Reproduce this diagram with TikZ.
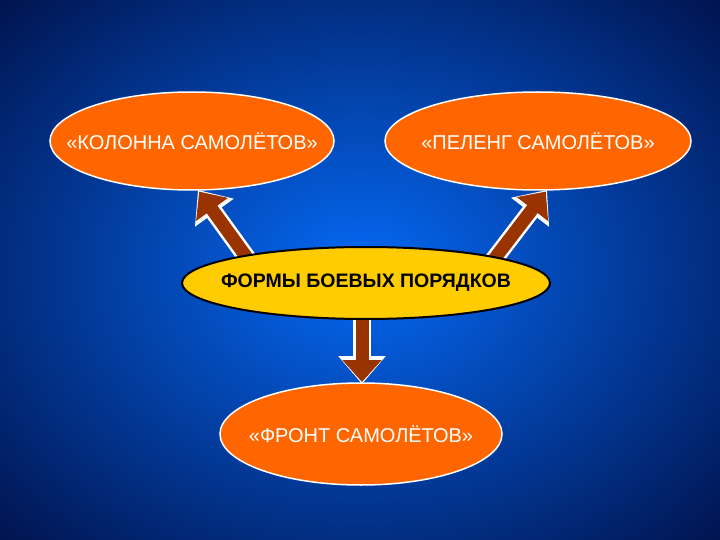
\documentclass[tikz,border=0pt]{standalone}
\usepackage{fontspec}
\setmainfont{Liberation Sans}
\usetikzlibrary{shapes.geometric,arrows.meta}
\definecolor{bgin}{RGB}{5,105,245}
\definecolor{bgout}{RGB}{0,10,60}
\definecolor{orng}{RGB}{255,102,0}
\definecolor{yel}{RGB}{255,204,0}
\definecolor{brn}{RGB}{153,51,0}
\tikzset{
  oval/.style={ellipse, fill=orng, draw=white, line width=1.5pt, inner sep=0pt},
  ovaltext/.style={font=\fontsize{20}{24}\selectfont, text=white},
  hub/.style={ellipse, fill=yel, draw=black, line width=2pt, inner sep=0pt},
  hubtext/.style={font=\bfseries\fontsize{19.5}{23}\selectfont, text=black},
  arrw/.style={line width=18pt, white, -{Triangle[width=46pt,length=28pt]}},
  arrb/.style={line width=13pt, brn, shorten >=2pt, -{Triangle[width=38pt,length=22pt]}}
}
\begin{document}
\begin{tikzpicture}[x=1pt,y=-1pt]
\fill[bgout] (0,0) rectangle (720,540);
\begin{scope}
\clip (0,0) rectangle (720,540);
\shade[inner color=bgin, outer color=bgout] (-200,-160) rectangle (920,700);
\end{scope}
\path[use as bounding box] (0,0) rectangle (720,540);
\node[oval, minimum width=284pt, minimum height=98pt] (a) at (192,141) {};
\node[ovaltext] (at) at (a) {«КОЛОННА САМОЛЁТОВ»};
\node[oval, minimum width=306pt, minimum height=98pt] (b) at (538,141) {};
\node[ovaltext] (bt) at (b) {«ПЕЛЕНГ САМОЛЁТОВ»};
\node[oval, minimum width=282pt, minimum height=102pt] (d) at (361,434) {};
\node[ovaltext] (dt) at (d) {«ФРОНТ САМОЛЁТОВ»};
\coordinate (s1) at (250,262);
\coordinate (s2) at (492,262);
\coordinate (s3) at (362,300);
\coordinate (t1) at (198,190);
\coordinate (t2) at (547,190);
\coordinate (t3) at (362,384);
\foreach \s/\t in {s1/t1,s2/t2,s3/t3}{
  \draw[arrw] (\s) -- (\t);
  \draw[arrb] (\s) -- (\t);
}
\node[hub, minimum width=368pt, minimum height=72pt] (c) at (366,283) {};
\node[hubtext] (ct) at (c) {ФОРМЫ БОЕВЫХ ПОРЯДКОВ};
\end{tikzpicture}
\end{document}
